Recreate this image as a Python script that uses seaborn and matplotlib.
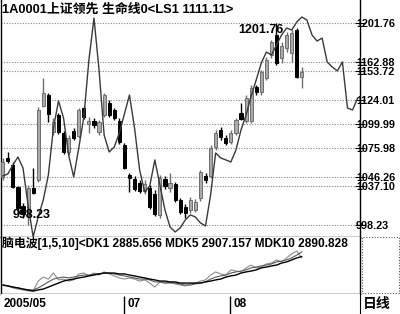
import numpy as np
import pandas as pd
import matplotlib
matplotlib.use("Agg")
import matplotlib.pyplot as plt
import seaborn as sns
from matplotlib.patches import Rectangle
import matplotlib.transforms as mtransforms

sns.set_style("white")
plt.rcParams['font.family'] = ['Liberation Sans', 'Noto Sans CJK SC', 'DejaVu Sans']

# ---------------- data ----------------
opens = [1046.7, 1065.9, 1058.8, 1036.6, 1017.4, 1008.3, 1035.6, 1043.7, 1118.3, 1129.4,
         1092.1, 1109.2, 1091.1, 1071.9, 1093.1, 1088.0, 1116.3, 1100.2, 1103.2, 1092.1,
         1109.2, 1121.3, 1114.3, 1103.2, 1079.0, 1048.7, 1044.7, 1040.6, 1032.6, 1035.6,
         1029.5, 1008.3, 1044.7, 1035.6, 1039.6, 1023.5, 1016.4, 1013.4, 1013.4, 1025.5,
         1047.7, 1047.7, 1077.0, 1094.1, 1086.0, 1082.0, 1091.1, 1111.3, 1103.2, 1103.2,
         1137.5, 1132.4, 1146.6, 1169.8, 1190.0, 1166.7, 1176.8, 1171.8, 1195.0, 1147.6]
closes = [1061.8, 1062.8, 1036.6, 1015.4, 1009.3, 1035.6, 1030.5, 1114.3, 1131.4, 1110.2,
          1102.2, 1092.1, 1071.9, 1086.0, 1086.0, 1114.3, 1107.2, 1103.2, 1099.1, 1102.2,
          1129.4, 1109.2, 1106.2, 1082.0, 1055.8, 1045.7, 1034.6, 1032.6, 1039.6, 1016.4,
          1009.3, 1045.7, 1037.6, 1040.6, 1023.5, 1011.4, 1010.4, 1023.5, 1021.5, 1051.7,
          1043.7, 1075.9, 1091.1, 1087.0, 1081.0, 1091.1, 1104.2, 1105.2, 1126.4, 1136.5,
          1132.4, 1152.6, 1164.7, 1182.9, 1161.7, 1178.9, 1190.0, 1192.0, 1147.6, 1152.6]
highs = [1065.9, 1071.9, 1061.8, 1037.6, 1020.4, 1038.6, 1055.8, 1117.3, 1146.6, 1131.4,
         1106.2, 1111.3, 1093.1, 1089.1, 1096.1, 1116.3, 1118.3, 1107.2, 1106.2, 1104.2,
         1131.4, 1124.4, 1116.3, 1106.2, 1081.0, 1050.7, 1047.7, 1043.7, 1043.7, 1038.6,
         1033.6, 1048.7, 1047.7, 1050.7, 1041.6, 1025.5, 1019.4, 1026.5, 1024.5, 1053.7,
         1050.7, 1079.0, 1094.1, 1097.1, 1089.1, 1094.1, 1106.2, 1121.3, 1129.4, 1139.5,
         1139.5, 1154.6, 1167.8, 1184.9, 1201.76, 1182.9, 1193.0, 1195.0, 1197.0, 1157.7]
lows = [1043.7, 1060.8, 1035.6, 1011.4, 1005.3, 998.23, 1029.5, 1041.6, 1117.3, 1102.2,
        1089.1, 1090.1, 1069.9, 1068.9, 1084.0, 1086.0, 1105.2, 1091.1, 1096.1, 1089.1,
        1107.2, 1107.2, 1104.2, 1080.0, 1054.8, 1031.5, 1032.6, 1030.5, 1029.5, 1014.4,
        1007.3, 1005.3, 1034.6, 1031.5, 1021.5, 1009.3, 1005.3, 1010.4, 1011.4, 1022.5,
        1040.6, 1045.7, 1073.9, 1084.0, 1079.0, 1080.0, 1089.1, 1104.2, 1101.2, 1101.2,
        1129.4, 1129.4, 1144.6, 1166.7, 1159.7, 1161.7, 1172.8, 1162.7, 1146.6, 1136.5]

lifeline = [1047.7, 1049.7, 1058.8, 1066.9, 1055.8, 1018.4, 986.2, 1006.3, 1023.5, 1048.7,
            1096.1, 1123.4, 1106.2, 1068.9, 1046.7, 1076.0, 1107.2, 1164.8, 1207.1, 1154.7,
            1089.1, 1071.9, 1077.0, 1091.1, 1110.3, 1129.4, 1096.1, 1053.8, 1031.6, 1037.6,
            1063.9, 1038.6, 1013.4, 996.2, 991.2, 995.2, 1003.3, 1008.4, 1006.3, 1000.3,
            997.3, 1028.5, 1070.9, 1065.9, 1063.9, 1061.8, 1073.9, 1094.1, 1109.3, 1128.4,
            1144.6, 1161.7, 1172.8, 1169.8, 1179.9, 1190.0, 1197.0, 1195.0, 1203.1, 1208.1,
            1205.1, 1190.0, 1183.9, 1186.9, 1162.7, 1157.7, 1153.7, 1162.7, 1116.3, 1114.3,
            1126.4]

dk1 = [2791, 2788, 2781, 2777, 2774, 2770, 2770, 2805, 2819, 2812,
       2833, 2809, 2812, 2805, 2809, 2830, 2833, 2823, 2833, 2826,
       2837, 2830, 2823, 2816, 2812, 2816, 2812, 2805, 2809, 2798,
       2784, 2802, 2798, 2802, 2795, 2791, 2788, 2795, 2798, 2805,
       2809, 2826, 2837, 2830, 2826, 2844, 2840, 2837, 2851, 2861,
       2851, 2854, 2865, 2868, 2879, 2872, 2886, 2900, 2910, 2885.656]
mdk5 = [2791, 2788, 2784, 2781, 2777, 2774, 2774, 2781, 2791, 2802,
        2812, 2816, 2819, 2816, 2819, 2823, 2826, 2826, 2830, 2830,
        2833, 2833, 2830, 2826, 2823, 2819, 2816, 2812, 2812, 2809,
        2802, 2802, 2798, 2798, 2798, 2795, 2791, 2791, 2795, 2798,
        2802, 2812, 2819, 2823, 2826, 2833, 2837, 2840, 2844, 2851,
        2854, 2858, 2861, 2865, 2872, 2875, 2879, 2886, 2896, 2907.157]
mdk10 = [2791, 2788, 2784, 2781, 2777, 2774, 2770, 2774, 2777, 2784,
         2791, 2798, 2805, 2809, 2812, 2816, 2819, 2823, 2826, 2830,
         2833, 2833, 2833, 2830, 2830, 2826, 2823, 2819, 2816, 2812,
         2809, 2805, 2805, 2802, 2802, 2798, 2798, 2798, 2798, 2798,
         2802, 2805, 2809, 2812, 2819, 2823, 2826, 2833, 2837, 2840,
         2844, 2851, 2854, 2858, 2861, 2868, 2872, 2879, 2886, 2890.828]

price_levels = [1201.76, 1162.88, 1153.72, 1124.01, 1099.99, 1075.98, 1046.26, 1037.10, 998.23]
price_labels = ["1201.76", "1162.88", "1153.72", "1124.01", "1099.99", "1075.98", "1046.26", "1037.10", "998.23"]

month_labels = ["2005/05", "07", "08"]
month_idx = [0, 24, 45]

title_main = "1A0001上证领先 生命线0<LS1 1111.11>"
title_sub = "脑电波[1,5,10]<DK1 2885.656 MDK5 2907.157 MDK10 2890.828"

# ---------------- figure ----------------
W, H = 400, 314
fig = plt.figure(figsize=(W / 100, H / 100), dpi=100)
fig.patch.set_facecolor("white")

def fbox(x0, y0, x1, y1):
    return [x0 / W, (H - y1) / H, (x1 - x0) / W, (y1 - y0) / H]

ax = fig.add_axes(fbox(1, 0, 360, 237))
axs = fig.add_axes(fbox(1, 237, 360, 294), sharex=ax)
axd = fig.add_axes(fbox(1, 294, 360, 314), sharex=ax)

n = len(opens)
idx = np.arange(n)
xlim = (-0.34, 70.47)

# grid lines
for lv in price_levels:
    ax.axhline(lv, color="#8a8a8a", lw=0.8, ls=(0, (1, 1.4)), zorder=0)

# candles
w = 0.62
for i in range(n):
    o, c, hi, lo = opens[i], closes[i], highs[i], lows[i]
    up = c >= o
    col = "#6e6e6e" if up else "black"
    ax.vlines(i, lo, hi, color=col, lw=1.0, zorder=2)
    bot, top = min(o, c), max(o, c)
    ax.add_patch(Rectangle((i - w / 2, bot), w, max(top - bot, 0.8),
                           facecolor="#aaaaaa" if up else "black",
                           edgecolor=col, lw=0.7, zorder=3))

# life line
ll = pd.DataFrame({"i": np.arange(len(lifeline)), "v": lifeline})
sns.lineplot(data=ll, x="i", y="v", ax=ax, color="#3a3a3a", lw=1.0, zorder=4)

ax.set_xlim(*xlim)
ax.set_ylim(986.1, 1225.3)
ax.set_xlabel("")
ax.set_ylabel("")
ax.set_xticks([])
ax.yaxis.tick_right()
ax.set_yticks(price_levels)
ax.set_yticklabels([])
ax.tick_params(axis="y", direction="inout", length=7, width=0.8, color="black")
for s in ["left", "right", "bottom"]:
    ax.spines[s].set_visible(True)
    ax.spines[s].set_color("black")
    ax.spines[s].set_linewidth(1.0)
ax.spines["top"].set_visible(False)

trans = mtransforms.blended_transform_factory(fig.transFigure, ax.transData)
for lv, lb in zip(price_levels, price_labels):
    fig.text(356 / W, lv, lb, transform=trans, ha="left", va="center_baseline",
             fontsize=7.8, fontweight="bold", color="black")

# annotations
imin = int(np.argmin(lows))
ax.annotate(f"{lows[imin]:.2f}", xy=(imin, lows[imin]), xytext=(-11, 7),
            textcoords="offset points", ha="left", va="center",
            fontsize=9, fontweight="bold", color="black", zorder=6)
imax = int(np.argmax(highs))
ax.annotate(f"{highs[imax]:.2f}", xy=(imax, highs[imax]), xytext=(4.7, -4.8),
            textcoords="offset points", ha="right", va="center",
            fontsize=9, fontweight="bold", color="black", zorder=6)

fig.text(2 / W, 1 - 10 / H, title_main, ha="left", va="center",
         fontsize=9.3, fontweight="bold", color="black")

# sub panel
sub = pd.DataFrame({"i": idx, "DK1": dk1, "MDK5": mdk5, "MDK10": mdk10})
sns.lineplot(data=sub, x="i", y="DK1", ax=axs, color="#8c8c8c", lw=0.8)
sns.lineplot(data=sub, x="i", y="MDK5", ax=axs, color="#5a5a5a", lw=0.8)
sns.lineplot(data=sub, x="i", y="MDK10", ax=axs, color="black", lw=1.0)
axs.set_ylim(2759.7, 2959.2)
axs.set_xticks([])
axs.set_yticks([])
axs.set_xlabel("")
axs.set_ylabel("")
for s in ["left", "right", "bottom"]:
    axs.spines[s].set_visible(True)
    axs.spines[s].set_color("black")
    axs.spines[s].set_linewidth(1.0)
axs.spines["top"].set_visible(False)
fig.text(2 / W, 1 - 243 / H, title_sub, ha="left", va="center",
         fontsize=8.6, fontweight="bold", color="black")

# date strip
axd.set_ylim(0, 1)
axd.set_xticks([])
axd.set_yticks([])
for s in ["top", "bottom", "left"]:
    axd.spines[s].set_visible(False)
axd.spines["right"].set_visible(True)
axd.spines["right"].set_color("black")
for k, (lb, mi) in enumerate(zip(month_labels, month_idx)):
    if k > 0:
        axd.vlines(mi - 0.1, 0, 0.9, color="black", lw=1.0)
    axd.annotate(lb, xy=(mi, 0.48), xytext=(2.2 if k > 0 else 0.8, 0),
                 textcoords="offset points", ha="left", va="center",
                 fontsize=8.5, fontweight="bold", color="black")

fig.text(363 / W, 1 - 304 / H, "日线", ha="left", va="center",
         fontsize=10, fontweight="bold", color="black")
fig.patches.append(Rectangle((362 / W, (H - 293) / H), 37 / W, 56 / H,
                             transform=fig.transFigure, fill=False,
                             edgecolor="#555555", lw=0.8, ls=(0, (1, 1.5))))

fig.savefig("out.png", dpi=100)
